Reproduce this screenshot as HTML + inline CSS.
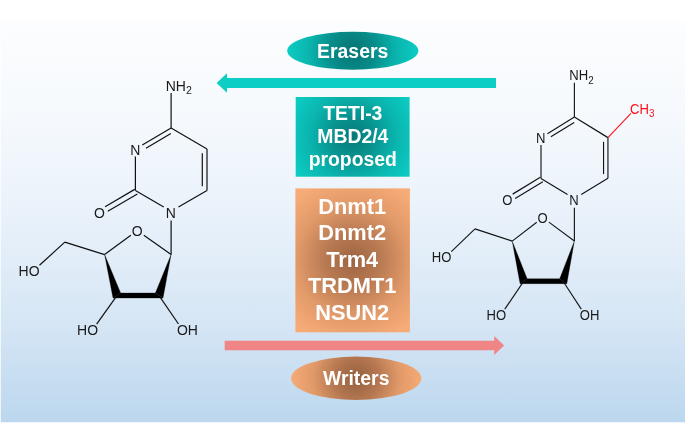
<!DOCTYPE html>
<html lang="en">
<head>
<meta charset="utf-8">
<title>Erasers and Writers</title>
<style>
html,body{margin:0;padding:0;background:#fff;}
body{width:685px;height:423px;overflow:hidden;position:relative;font-family:"Liberation Sans",sans-serif;}
#bg{position:absolute;left:1px;top:20.7px;width:684px;height:401.2px;
background:linear-gradient(to bottom,#fcfdfe 0%,#f5f9fd 25%,#e8f1fa 50%,#d6e6f5 75%,#bcd7ee 100%);}
#edge{position:absolute;left:0;top:20.7px;width:685px;height:402.3px;opacity:0.28;
background:linear-gradient(to bottom,#fcfdfe 0%,#f5f9fd 25%,#e8f1fa 50%,#d6e6f5 75%,#bcd7ee 100%);}
svg{position:absolute;left:0;top:0;will-change:transform;}
.mol line{stroke:#111;stroke-width:1.2;stroke-linecap:butt;fill:none;}
.mol .w{fill:#000;stroke:#000;stroke-width:0.3;stroke-linejoin:miter;}
.mol text{font-family:"Liberation Sans",sans-serif;font-size:14px;fill:#1a1a1a;}
.mol .s{font-size:10.5px;}
.lab{font-family:"Liberation Sans",sans-serif;font-weight:bold;fill:#fff;text-anchor:middle;}
</style>
</head>
<body>
<div id="edge"></div>
<div id="bg"></div>
<svg width="685" height="423" viewBox="0 0 685 423">
<defs>
<radialGradient id="gt" gradientUnits="userSpaceOnUse" cx="352.8" cy="50.8" r="66">
<stop offset="0" stop-color="#067574"/><stop offset="0.33" stop-color="#078b88"/><stop offset="0.67" stop-color="#0ab5ae"/><stop offset="1" stop-color="#0bcdc4"/>
</radialGradient>
<radialGradient id="gtb" gradientUnits="userSpaceOnUse" cx="352.8" cy="136.9" r="66">
<stop offset="0" stop-color="#067a78"/><stop offset="0.33" stop-color="#089390"/><stop offset="0.67" stop-color="#0ab6af"/><stop offset="1" stop-color="#0bcbc2"/>
</radialGradient>
<radialGradient id="go" gradientUnits="userSpaceOnUse" cx="356.2" cy="378.3" r="65">
<stop offset="0" stop-color="#94603f"/><stop offset="0.33" stop-color="#b37650"/><stop offset="0.67" stop-color="#e19968"/><stop offset="1" stop-color="#f6ab76"/>
</radialGradient>
<radialGradient id="gob" gradientUnits="userSpaceOnUse" cx="352.7" cy="260.4" r="85">
<stop offset="0" stop-color="#9c6442"/><stop offset="0.33" stop-color="#b97a53"/><stop offset="0.67" stop-color="#e29a69"/><stop offset="1" stop-color="#f7ac77"/>
</radialGradient>
</defs>

<!-- Erasers -->
<ellipse cx="352.8" cy="50.8" rx="65.6" ry="19" fill="url(#gt)"/>
<text class="lab" x="352.7" y="57.5" font-size="19.4">Erasers</text>
<polygon fill="#0ccec4" points="496,78 227,78 227,73.2 216.6,83 227,92.8 227,88 496,88"/>
<rect x="295.7" y="97" width="113.9" height="79.7" fill="url(#gtb)"/>
<text class="lab" font-size="19.4"><tspan x="352.8" y="119.5">TETI-3</tspan><tspan x="352.8" y="143">MBD2/4</tspan><tspan x="352.8" y="166.4">proposed</tspan></text>

<!-- Writers -->
<rect x="295.4" y="188.4" width="114.5" height="143.9" fill="url(#gob)"/>
<text class="lab" font-size="21.8"><tspan x="352.2" y="213.7">Dnmt1</tspan><tspan x="352.2" y="240.3">Dnmt2</tspan><tspan x="352.2" y="266.8">Trm4</tspan><tspan x="352.2" y="293.2">TRDMT1</tspan><tspan x="352.2" y="319.6">NSUN2</tspan></text>
<polygon fill="#f08586" points="224.7,340.8 494.2,340.8 494.2,336 504.1,345.5 494.2,355 494.2,350.2 224.7,350.2"/>
<ellipse cx="356.2" cy="378.3" rx="65.2" ry="21.7" fill="url(#go)"/>
<text class="lab" x="356.2" y="385" font-size="19.4">Writers</text>

<!-- cytidine -->
<g class="mol">
<line x1="171.10" y1="128.00" x2="207.00" y2="149.00"/>
<line x1="207.00" y1="149.00" x2="207.00" y2="190.40"/>
<line x1="202.30" y1="153.20" x2="202.30" y2="186.20"/>
<line x1="207.00" y1="190.40" x2="178.45" y2="207.02"/>
<line x1="163.75" y1="207.04" x2="135.40" y2="190.60"/>
<line x1="135.40" y1="190.60" x2="135.40" y2="156.50"/>
<line x1="142.30" y1="144.94" x2="171.10" y2="128.00"/>
<line x1="145.97" y1="148.23" x2="170.90" y2="133.57"/>
<line x1="134.69" y1="189.39" x2="105.09" y2="206.66"/>
<line x1="137.37" y1="193.97" x2="107.76" y2="211.24"/>
<line x1="171.10" y1="128.00" x2="171.10" y2="93.00"/>
<line x1="171.10" y1="220.50" x2="171.10" y2="254.50"/>
<line x1="171.10" y1="254.50" x2="143.83" y2="235.22"/>
<line x1="130.85" y1="235.33" x2="104.60" y2="254.60"/>
<line x1="104.60" y1="254.60" x2="64.80" y2="242.10"/>
<line x1="64.80" y1="242.10" x2="39.50" y2="265.29"/>
<line x1="115.55" y1="297.54" x2="96.64" y2="324.06"/>
<line x1="160.41" y1="297.56" x2="178.48" y2="323.97"/>
<polygon class="w" points="104.60,254.60 120.6,293 113.0,298"/>
<polygon class="w" points="171.10,254.50 155.4,293 163.0,298"/>
<polygon class="w" points="113.0,298 120.6,293 155.4,293 163.0,298"/>
<text x="165.70" y="90.70" text-anchor="start">NH<tspan class="s" dy="3.1">2</tspan></text>
<text x="130.20" y="154.50" text-anchor="start">N</text>
<text x="165.70" y="218.00" text-anchor="start">N</text>
<text x="93.90" y="218.00" text-anchor="start">O</text>
<text x="131.80" y="235.70" text-anchor="start">O</text>
<text x="18.60" y="275.70" text-anchor="start">HO</text>
<text x="77.10" y="335.00" text-anchor="start">HO</text>
<text x="176.90" y="335.00" text-anchor="start">OH</text>
</g>

<!-- 5-methylcytidine -->
<g class="mol" transform="matrix(0.935 0 0 0.98 414.4 -8.4)">
<line x1="171.10" y1="128.00" x2="207.00" y2="149.00"/>
<line x1="207.00" y1="149.00" x2="207.00" y2="190.40"/>
<line x1="202.30" y1="153.20" x2="202.30" y2="186.20"/>
<line x1="207.00" y1="190.40" x2="178.45" y2="207.02"/>
<line x1="163.75" y1="207.04" x2="135.40" y2="190.60"/>
<line x1="135.40" y1="190.60" x2="135.40" y2="156.50"/>
<line x1="142.30" y1="144.94" x2="171.10" y2="128.00"/>
<line x1="145.97" y1="148.23" x2="170.90" y2="133.57"/>
<line x1="134.69" y1="189.39" x2="105.09" y2="206.66"/>
<line x1="137.37" y1="193.97" x2="107.76" y2="211.24"/>
<line x1="171.10" y1="128.00" x2="171.10" y2="93.00"/>
<line x1="171.10" y1="220.50" x2="171.10" y2="254.50"/>
<line x1="171.10" y1="254.50" x2="143.83" y2="235.22"/>
<line x1="130.85" y1="235.33" x2="104.60" y2="254.60"/>
<line x1="104.60" y1="254.60" x2="64.80" y2="242.10"/>
<line x1="64.80" y1="242.10" x2="39.50" y2="265.29"/>
<line x1="115.55" y1="297.54" x2="96.64" y2="324.06"/>
<line x1="160.41" y1="297.56" x2="178.48" y2="323.97"/>
<polygon class="w" points="104.60,254.60 120.6,293 113.0,298"/>
<polygon class="w" points="171.10,254.50 155.4,293 163.0,298"/>
<polygon class="w" points="113.0,298 120.6,293 155.4,293 163.0,298"/>
<text x="165.70" y="90.70" text-anchor="start">NH<tspan class="s" dy="3.1">2</tspan></text>
<text x="130.20" y="154.50" text-anchor="start">N</text>
<text x="165.70" y="218.00" text-anchor="start">N</text>
<text x="93.90" y="218.00" text-anchor="start">O</text>
<text x="131.80" y="235.70" text-anchor="start">O</text>
<text x="18.60" y="275.70" text-anchor="start">HO</text>
<text x="77.10" y="335.00" text-anchor="start">HO</text>
<text x="176.90" y="335.00" text-anchor="start">OH</text>
<line x1="207" y1="149" x2="231.6" y2="124.3" style="stroke:#ff1018"/>
<text x="230.6" y="124.8" style="fill:#ff1018">CH<tspan class="s" dy="3.1">3</tspan></text>
</g>
</svg>
</body>
</html>
